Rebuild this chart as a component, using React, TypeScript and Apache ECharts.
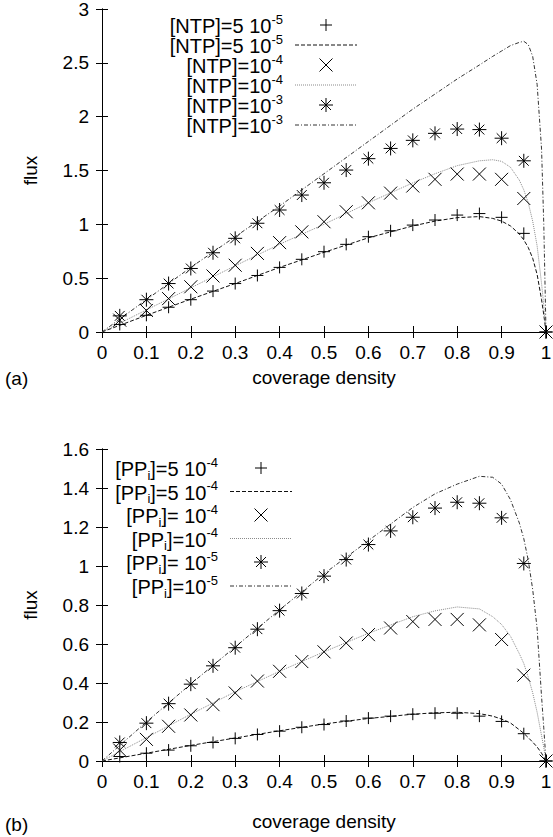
import React, { useEffect, useRef } from 'react';
import * as echarts from 'echarts';

const FONT = "'Liberation Sans', Arial, Helvetica, sans-serif";

// ---- marker x positions (both panels) ----
const xMarks = [0.04, 0.1, 0.15, 0.2, 0.25, 0.3, 0.35, 0.4, 0.45, 0.5, 0.55, 0.6, 0.65, 0.7, 0.75, 0.8, 0.85, 0.9, 0.95, 1.0];

// ---- panel (a): [NTP] markers ----
const aPlus = [0.07, 0.155, 0.23, 0.3, 0.38, 0.45, 0.525, 0.6, 0.675, 0.746, 0.814, 0.885, 0.94, 0.993, 1.04, 1.086, 1.1, 1.065, 0.916, 0];
const aCross = [0.11, 0.2, 0.31, 0.42, 0.52, 0.62, 0.73, 0.83, 0.93, 1.024, 1.117, 1.2, 1.29, 1.356, 1.418, 1.467, 1.467, 1.418, 1.24, 0];
const aStar = [0.15, 0.3, 0.45, 0.59, 0.736, 0.87, 1.01, 1.133, 1.272, 1.386, 1.504, 1.61, 1.705, 1.78, 1.845, 1.885, 1.88, 1.8, 1.59, 0];

// ---- curve x positions (both panels) ----
const xLine = [0, 0.1, 0.2, 0.3, 0.4, 0.5, 0.6, 0.7, 0.75, 0.8, 0.85, 0.88, 0.9, 0.92, 0.94, 0.95, 0.96, 0.97, 0.98, 0.99, 0.995, 1.0];

// ---- panel (a): curves ----
const aDash = [0, 0.155, 0.305, 0.45, 0.6, 0.74, 0.875, 0.985, 1.03, 1.062, 1.072, 1.055, 1.03, 0.985, 0.91, 0.855, 0.785, 0.685, 0.535, 0.3, 0.16, 0];
const aDot = [0, 0.205, 0.41, 0.615, 0.815, 1.0, 1.2, 1.385, 1.47, 1.545, 1.59, 1.6, 1.585, 1.53, 1.41, 1.32, 1.2, 1.03, 0.8, 0.45, 0.25, 0];
const aDashDot = [0, 0.3, 0.6, 0.885, 1.17, 1.47, 1.77, 2.07, 2.21, 2.35, 2.48, 2.56, 2.61, 2.66, 2.69, 2.7, 2.67, 2.56, 2.3, 1.7, 1.0, 0];

// ---- panel (b): [PPi] markers ----
const bPlus = [0.023, 0.04, 0.056, 0.078, 0.095, 0.116, 0.136, 0.153, 0.173, 0.187, 0.205, 0.22, 0.23, 0.24, 0.245, 0.245, 0.23, 0.203, 0.14, 0];
const bCross = [0.056, 0.111, 0.178, 0.236, 0.289, 0.349, 0.41, 0.46, 0.51, 0.56, 0.605, 0.648, 0.682, 0.715, 0.726, 0.726, 0.698, 0.623, 0.44, 0];
const bStar = [0.095, 0.194, 0.294, 0.394, 0.488, 0.581, 0.676, 0.771, 0.859, 0.948, 1.033, 1.11, 1.18, 1.25, 1.297, 1.327, 1.322, 1.247, 1.013, 0];

// ---- panel (b): curves ----
const bDash = [0, 0.04, 0.08, 0.118, 0.155, 0.19, 0.218, 0.24, 0.247, 0.25, 0.243, 0.23, 0.215, 0.195, 0.16, 0.142, 0.12, 0.097, 0.072, 0.04, 0.02, 0];
const bDot = [0, 0.12, 0.24, 0.355, 0.46, 0.56, 0.655, 0.74, 0.77, 0.79, 0.78, 0.74, 0.7, 0.64, 0.55, 0.5, 0.43, 0.35, 0.25, 0.13, 0.07, 0];
const bDashDot = [0, 0.2, 0.395, 0.585, 0.775, 0.96, 1.13, 1.3, 1.37, 1.42, 1.46, 1.455, 1.42, 1.34, 1.22, 1.14, 1.03, 0.88, 0.68, 0.33, 0.17, 0];

// ---- axis settings ----
const xMin = 0, xMax = 1, xStep = 0.1;
const aYMax = 3, aYStep = 0.5;
const bYMax = 1.6, bYStep = 0.2;
const xTitle = 'coverage density';
const yTitle = 'flux';

// ---- legend labels: [text, kind] parts (t = normal, s = superscript, b = subscript) ----
const aLegend: [string, string][][] = [
  [['[NTP]=5 10', 't'], ['-5', 's']],
  [['[NTP]=5 10', 't'], ['-5', 's']],
  [['[NTP]=10', 't'], ['-4', 's']],
  [['[NTP]=10', 't'], ['-4', 's']],
  [['[NTP]=10', 't'], ['-3', 's']],
  [['[NTP]=10', 't'], ['-3', 's']],
];
const bLegend: [string, string][][] = [
  [['[PP', 't'], ['i', 'b'], [']=5 10', 't'], ['-4', 's']],
  [['[PP', 't'], ['i', 'b'], [']=5 10', 't'], ['-4', 's']],
  [['[PP', 't'], ['i', 'b'], [']= 10', 't'], ['-4', 's']],
  [['[PP', 't'], ['i', 'b'], [']=10', 't'], ['-4', 's']],
  [['[PP', 't'], ['i', 'b'], [']= 10', 't'], ['-5', 's']],
  [['[PP', 't'], ['i', 'b'], [']=10', 't'], ['-5', 's']],
];
const legendKinds = ['plus', 'dash', 'cross', 'dot', 'star', 'dashdot'];

const PLUS = 'path://M5 0L5 10M0 5L10 5';
const CROSS = 'path://M0 0L10 10M10 0L0 10';
const STAR = 'path://M5 0L5 10M0 5L10 5M1.5 1.5L8.5 8.5M8.5 1.5L1.5 8.5';

const DASH = { color: '#111', width: 1, type: [4, 2] };
const DOT = { color: '#8a8a8a', width: 1, type: [1, 1] };
const DASHDOT = { color: '#333', width: 1, type: [4, 2, 1, 2] };

const zip = (xs: number[], ys: number[]) => xs.map((x, i) => [x, ys[i]]);

const GRIDS = [
  { left: 102, top: 9, width: 444, height: 323 },
  { left: 102, top: 449, width: 444, height: 312 },
];

const fmt = (v: number) => String(+v.toFixed(2));

const MAIN_SIZE = 20;
const SMALL_SIZE = 13;

let measureCtx: CanvasRenderingContext2D | null = null;
function textWidth(t: string, size: number) {
  if (!measureCtx) measureCtx = document.createElement('canvas').getContext('2d');
  if (!measureCtx) return t.length * size * 0.55;
  measureCtx.font = `${size}px 'Liberation Sans', Arial, sans-serif`;
  return measureCtx.measureText(t).width;
}

function makeAxes(gi: number, yMax: number, yStep: number, xNameGap: number) {
  const line = { show: true, lineStyle: { color: '#000', width: 1 } };
  const tick = { show: true, inside: true, length: 6, lineStyle: { color: '#000', width: 1 } };
  const label = { color: '#000', fontSize: 19, fontFamily: FONT };
  const xs = [
    {
      type: 'value', gridIndex: gi, position: 'bottom', min: xMin, max: xMax, interval: xStep,
      axisLine: line, axisTick: tick, splitLine: { show: false },
      axisLabel: { ...label, margin: 11, formatter: fmt },
      name: xTitle, nameLocation: 'middle', nameGap: xNameGap,
      nameTextStyle: { color: '#000', fontSize: 19, fontFamily: FONT },
    },
    {
      type: 'value', gridIndex: gi, position: 'top', min: xMin, max: xMax, interval: xStep,
      axisLine: line, axisTick: tick, splitLine: { show: false }, axisLabel: { show: false },
    },
  ];
  const ys = [
    {
      type: 'value', gridIndex: gi, position: 'left', min: 0, max: yMax, interval: yStep,
      axisLine: line, axisTick: tick, splitLine: { show: false },
      axisLabel: { ...label, margin: 13, formatter: fmt },
      name: yTitle, nameLocation: 'middle', nameGap: 62, nameRotate: 90,
      nameTextStyle: { color: '#000', fontSize: 19, fontFamily: FONT },
    },
    {
      type: 'value', gridIndex: gi, position: 'right', min: 0, max: yMax, interval: yStep,
      axisLine: line, axisTick: tick, splitLine: { show: false }, axisLabel: { show: false },
    },
  ];
  return { xs, ys };
}

function scatter(ax: number, data: number[], symbol: string, size: number) {
  return {
    type: 'scatter', xAxisIndex: ax, yAxisIndex: ax, data: zip(xMarks, data),
    symbol, symbolSize: size, silent: true, z: 3,
    itemStyle: { color: 'rgba(0,0,0,0)', borderColor: '#000', borderWidth: 1, opacity: 1 },
  };
}
function curve(ax: number, data: number[], ls: any) {
  return {
    type: 'line', xAxisIndex: ax, yAxisIndex: ax, data: zip(xLine, data),
    symbol: 'none', showSymbol: false, silent: true, z: 2, lineStyle: ls, smooth: false,
  };
}

function legendGraphics(labels: [string, string][][], rows: number[], textRight: number, sx1: number, sx2: number) {
  const els: any[] = [];
  const cx = (sx1 + sx2) / 2;
  labels.forEach((parts, i) => {
    const y = rows[i];
    const widths = parts.map(([t, k]) => textWidth(t, k === 't' ? MAIN_SIZE : SMALL_SIZE));
    const total = widths.reduce((a, b) => a + b, 0);
    let x = textRight - total;
    parts.forEach(([t, k], j) => {
      const dy = k === 's' ? -7 : k === 'b' ? 6 : 0;
      els.push({
        type: 'text', x, y: y + 1 + dy, silent: true,
        style: {
          text: t, fontSize: k === 't' ? MAIN_SIZE : SMALL_SIZE, fontFamily: FONT, fill: '#000',
          align: 'left', verticalAlign: 'middle', textAlign: 'left', textVerticalAlign: 'middle',
        },
      });
      x += widths[j];
    });
    const k = legendKinds[i];
    const st = { stroke: '#000', lineWidth: 1 };
    if (k === 'plus') {
      els.push({ type: 'line', silent: true, shape: { x1: cx - 6, y1: y, x2: cx + 6, y2: y }, style: st });
      els.push({ type: 'line', silent: true, shape: { x1: cx, y1: y - 6, x2: cx, y2: y + 6 }, style: st });
    } else if (k === 'cross') {
      els.push({ type: 'line', silent: true, shape: { x1: cx - 6.5, y1: y - 6.5, x2: cx + 6.5, y2: y + 6.5 }, style: st });
      els.push({ type: 'line', silent: true, shape: { x1: cx + 6.5, y1: y - 6.5, x2: cx - 6.5, y2: y + 6.5 }, style: st });
    } else if (k === 'star') {
      els.push({ type: 'line', silent: true, shape: { x1: cx - 7, y1: y, x2: cx + 7, y2: y }, style: st });
      els.push({ type: 'line', silent: true, shape: { x1: cx, y1: y - 7, x2: cx, y2: y + 7 }, style: st });
      els.push({ type: 'line', silent: true, shape: { x1: cx - 5, y1: y - 5, x2: cx + 5, y2: y + 5 }, style: st });
      els.push({ type: 'line', silent: true, shape: { x1: cx + 5, y1: y - 5, x2: cx - 5, y2: y + 5 }, style: st });
    } else {
      const ls = k === 'dash' ? DASH : k === 'dot' ? DOT : DASHDOT;
      els.push({
        type: 'line', silent: true, shape: { x1: sx1, y1: y, x2: sx2, y2: y },
        style: { stroke: ls.color, lineWidth: ls.width, lineDash: ls.type },
      });
    }
  });
  return els;
}

export default function App() {
  const ref = useRef<HTMLDivElement>(null);
  useEffect(() => {
    document.body.style.margin = '0';
    if (!ref.current) return;
    const chart = echarts.init(ref.current, null, { renderer: 'svg' });
    const A = makeAxes(0, aYMax, aYStep, 36);
    const B = makeAxes(1, bYMax, bYStep, 51);
    const option: any = {
      animation: false,
      backgroundColor: '#fff',
      grid: GRIDS.map((g) => ({ ...g, containLabel: false, outerBoundsMode: 'none' })),
      xAxis: [A.xs[0], B.xs[0], A.xs[1], B.xs[1]],
      yAxis: [A.ys[0], B.ys[0], A.ys[1], B.ys[1]],
      series: [
        curve(0, aDash, DASH),
        curve(0, aDot, DOT),
        curve(0, aDashDot, DASHDOT),
        scatter(0, aPlus, PLUS, 12),
        scatter(0, aCross, CROSS, 13),
        scatter(0, aStar, STAR, 14),
        curve(1, bDash, DASH),
        curve(1, bDot, DOT),
        curve(1, bDashDot, DASHDOT),
        scatter(1, bPlus, PLUS, 12),
        scatter(1, bCross, CROSS, 13),
        scatter(1, bStar, STAR, 14),
      ],
      graphic: [
        ...legendGraphics(aLegend, [25, 45, 65, 85, 105, 125], 283, 295, 357),
        ...legendGraphics(bLegend, [468, 491.5, 515, 538.5, 562, 586], 218, 230, 292),
        { type: 'text', x: 5, y: 378, silent: true, style: { text: '(a)', fontSize: 19, fontFamily: FONT, fill: '#000', verticalAlign: 'middle', textVerticalAlign: 'middle' } },
        { type: 'text', x: 5, y: 824, silent: true, style: { text: '(b)', fontSize: 19, fontFamily: FONT, fill: '#000', verticalAlign: 'middle', textVerticalAlign: 'middle' } },
      ],
    };
    chart.setOption(option);
    return () => chart.dispose();
  }, []);
  return <div ref={ref} style={{ width: 553, height: 837 }} />;
}
